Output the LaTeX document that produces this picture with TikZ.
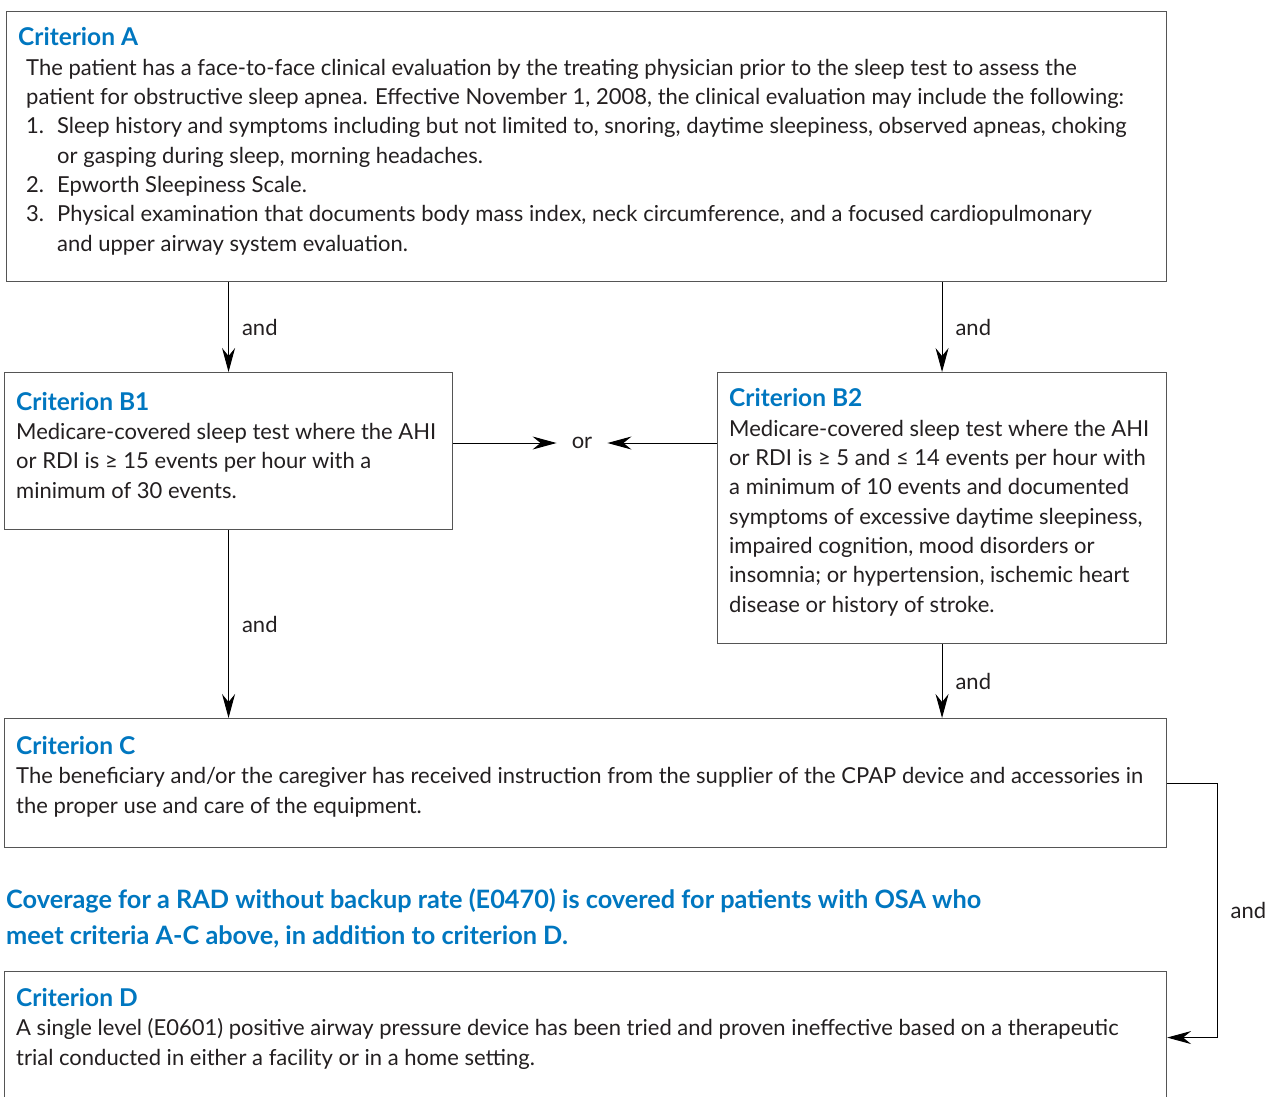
\documentclass[tikz,border=0pt]{standalone}
\usepackage{fontspec}
\setmainfont{Lato}
\usetikzlibrary{arrows.meta, positioning}

\definecolor{critblue}{RGB}{0,119,192}
\definecolor{bodygray}{RGB}{35,31,32}
\definecolor{linegray}{RGB}{85,85,85}
\newcommand{\bodysize}{\fontsize{22}{29.3}\selectfont}
\newcommand{\crit}[1]{{\fontsize{24.5}{29.3}\selectfont\bfseries\color{critblue}#1}}
\newcommand{\itemno}[1]{\makebox[31pt][l]{#1}}

\begin{document}
\begin{tikzpicture}[x=1pt, y=-1pt,
  critbox/.style={draw=linegray, line width=1.1pt, anchor=north west, inner sep=0pt},
  crittext/.style={anchor=base west, align=left, inner sep=0pt, text=bodygray, font=\bodysize},
  flow/.style={-{Stealth[length=24pt, width=13pt, inset=8pt]}, line width=1pt},
  andlabel/.style={right=13pt, inner sep=0pt, text=bodygray, font=\bodysize}]
\clip (0,0) rectangle (1266,1096);
\fill[white] (0,0) rectangle (1266,1096);

% boxes
\node[critbox, minimum width=1160pt, minimum height=270pt] (a) at (6,11) {};
\node[critbox, minimum width=448pt, minimum height=157pt] (b1) at (4,372) {};
\node[critbox, minimum width=449pt, minimum height=271pt] (b2) at (717,372) {};
\node[critbox, minimum width=1162pt, minimum height=129pt] (c) at (4,718) {};
\node[critbox, minimum width=1162pt, minimum height=132pt] (d) at (4,971) {};

% texts (placed at the baseline of their last line)
\node[crittext] (atext) at (18,251) {\crit{Criterion A}\\
  \hspace*{8pt}The patient has a face-to-face clinical evaluation by the treating physician prior to the sleep test to assess the\\
  \hspace*{8pt}patient for obstructive sleep apnea. Effective November 1, 2008, the clinical evaluation may include the following:\\
  \hspace*{8pt}\itemno{1.}Sleep history and symptoms including but not limited to, snoring, daytime sleepiness, observed apneas, choking\\
  \hspace*{8pt}\itemno{}or gasping during sleep, morning headaches.\\
  \hspace*{8pt}\itemno{2.}Epworth Sleepiness Scale.\\
  \hspace*{8pt}\itemno{3.}Physical examination that documents body mass index, neck circumference, and a focused cardiopulmonary\\
  \hspace*{8pt}\itemno{}and upper airway system evaluation.};
\node[crittext] (b1text) at (16,498) {\crit{Criterion B1}\\
  Medicare-covered sleep test where the AHI\\
  or RDI is ≥ 15 events per hour with a\\
  minimum of 30 events.};
\node[crittext] (b2text) at (729,612) {\crit{Criterion B2}\\
  Medicare-covered sleep test where the AHI\\
  or RDI is ≥ 5 and ≤ 14 events per hour with\\
  a minimum of 10 events and documented\\
  symptoms of excessive daytime sleepiness,\\
  impaired cognition, mood disorders or\\
  insomnia; or hypertension, ischemic heart\\
  disease or history of stroke.};
\node[crittext] (ctext) at (16,813) {\crit{Criterion C}\\
  The beneficiary and/or the caregiver has received instruction from the supplier of the CPAP device and accessories in\\
  the proper use and care of the equipment.};
\node[crittext, text=critblue, font=\fontsize{25.3}{36}\selectfont\bfseries] (coverage) at (6,944)
  {Coverage for a RAD without backup rate (E0470) is covered for patients with OSA who\\
  meet criteria A-C above, in addition to criterion D.};
\node[crittext] (dtext) at (16,1065) {\crit{Criterion D}\\
  A single level (E0601) positive airway pressure device has been tried and proven ineffective based on a therapeutic\\
  trial conducted in either a facility or in a home setting.};

% connectors
\node[inner xsep=15pt, inner ysep=0pt, text=bodygray, font=\bodysize] (or) at (582,443) {or};
\draw[flow] (b1.east |- or.west) -- (or.west);
\draw[flow] (b2.west |- or.east) -- (or.east);
\draw[flow] (b1.north |- a.south) -- node[andlabel] {and} (b1.north);
\draw[flow] (b2.north |- a.south) -- node[andlabel] {and} (b2.north);
\draw[flow] (b1.south) -- node[andlabel] {and} (b1.south |- c.north);
\draw[flow] (b2.south) -- node[andlabel] {and} (b2.south |- c.north);
\draw[flow] (c.east) -- ++(50,0) coordinate (cbend) -- (cbend |- d.east) node[midway, andlabel] {and} -- (d.east);
\end{tikzpicture}
\end{document}
